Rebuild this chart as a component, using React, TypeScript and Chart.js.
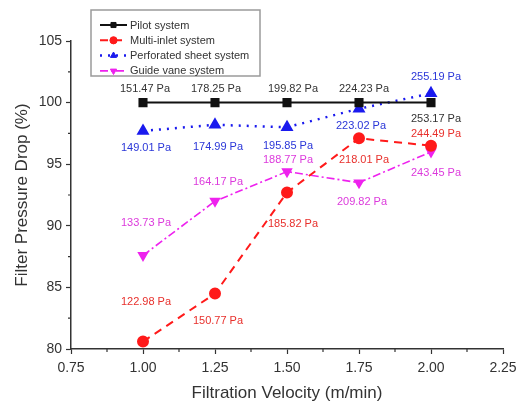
import React, { useEffect, useRef } from "react";
import { Chart, registerables } from "chart.js";
import { drawPoint } from "chart.js/helpers";

Chart.register(...registerables);

const velocities = [1.0, 1.25, 1.5, 1.75, 2.0];
const seriesNames = ["Pilot system", "Multi-inlet system", "Perforated sheet system", "Guide vane system"];
const pilotDrop = [100, 100, 100, 100, 100];
const multiInletDrop = [80.6, 84.5, 92.7, 97.1, 96.5];
const perforatedDrop = [97.7, 98.2, 98.0, 99.5, 100.75];
const guideVaneDrop = [87.6, 92.0, 94.4, 93.5, 96.0];
const pilotPa = ["151.47 Pa", "178.25 Pa", "199.82 Pa", "224.23 Pa", "253.17 Pa"];
const multiInletPa = ["122.98 Pa", "150.77 Pa", "185.82 Pa", "218.01 Pa", "244.49 Pa"];
const perforatedPa = ["149.01 Pa", "174.99 Pa", "195.85 Pa", "223.02 Pa", "255.19 Pa"];
const guideVanePa = ["133.73 Pa", "164.17 Pa", "188.77 Pa", "209.82 Pa", "243.45 Pa"];
const yTicksMajor = [80, 85, 90, 95, 100, 105];
const xTickStep = 0.25;

// label placement offsets (layout only, px relative to point)
const labelOffsets = [
  [[2, -14], [1, -14], [6, -14], [5, -14], [5, 16]],
  [[3, -40], [3, 27], [6, 31], [5, 22], [5, -12]],
  [[3, 17], [3, 22], [1, 19], [2, 17], [5, -16]],
  [[3, -32], [3, -19], [1, -12], [3, 19], [5, 21]],
];
const labelColors = ["#333333", "#e8302c", "#2a36d8", "#dc3adc"];
const paLabels = [pilotPa, multiInletPa, perforatedPa, guideVanePa];

const FONT = "'Liberation Sans', Arial, sans-serif";

const annotationPlugin = {
  id: "paLabels",
  afterDatasetsDraw(chart: any) {
    const ctx = chart.ctx;
    ctx.save();
    ctx.font = `11px ${FONT}`;
    ctx.textAlign = "center";
    ctx.textBaseline = "middle";
    chart.data.datasets.forEach((ds: any, di: number) => {
      const meta = chart.getDatasetMeta(di);
      ctx.fillStyle = labelColors[di];
      meta.data.forEach((pt: any, i: number) => {
        const [dx, dy] = labelOffsets[di][i];
        ctx.fillText(paLabels[di][i], pt.x + dx, pt.y + dy);
      });
    });
    ctx.restore();
  },
};

const minorTickPlugin = {
  id: "minorTicks",
  afterDraw(chart: any) {
    const ctx = chart.ctx;
    const xs = chart.scales.x;
    const ys = chart.scales.y;
    ctx.save();
    ctx.strokeStyle = "#333";
    ctx.lineWidth = 1.2;
    ctx.beginPath();
    for (let i = 0; i < yTicksMajor.length - 1; i++) {
      const v = (yTicksMajor[i] + yTicksMajor[i + 1]) / 2;
      const py = ys.getPixelForValue(v);
      ctx.moveTo(ys.right, py);
      ctx.lineTo(ys.right - 3, py);
    }
    for (let v = xs.min + xTickStep / 2; v < xs.max; v += xTickStep) {
      const px = xs.getPixelForValue(v);
      ctx.moveTo(px, xs.top);
      ctx.lineTo(px, xs.top + 3);
    }
    ctx.stroke();
    ctx.restore();
  },
};

const legendPlugin = {
  id: "insetLegend",
  afterDraw(chart: any) {
    const ctx = chart.ctx;
    const left = 91, top = 10, w = 169, h = 66;
    ctx.save();
    ctx.fillStyle = "#ffffff";
    ctx.fillRect(left, top, w, h);
    ctx.strokeStyle = "#9a9a9a";
    ctx.lineWidth = 1.5;
    ctx.strokeRect(left, top, w, h);
    ctx.font = `11px ${FONT}`;
    ctx.textBaseline = "middle";
    ctx.textAlign = "left";
    chart.data.datasets.forEach((ds: any, i: number) => {
      const y = 25 + i * 15.3;
      ctx.save();
      ctx.strokeStyle = ds.borderColor;
      ctx.lineWidth = ds.borderWidth;
      ctx.setLineDash(ds.borderDash || []);
      ctx.beginPath();
      ctx.moveTo(100, y);
      ctx.lineTo(127, y);
      ctx.stroke();
      ctx.restore();
      ctx.save();
      ctx.fillStyle = ds.pointBackgroundColor;
      ctx.strokeStyle = ds.pointBackgroundColor;
      ctx.lineWidth = 1;
      drawPoint(ctx, {
        pointStyle: ds.pointStyle,
        rotation: ds.pointRotation || 0,
        radius: 3.6,
        borderWidth: 1,
      } as any, 113.5, y);
      ctx.restore();
      ctx.fillStyle = "#333";
      ctx.fillText(ds.label, 130, y + 0.5);
    });
    ctx.restore();
  },
};

export default function App() {
  const ref = useRef<HTMLCanvasElement | null>(null);
  useEffect(() => {
    document.body.style.margin = "0";
    const mk = (ys: number[]) => velocities.map((x, i) => ({ x, y: ys[i] }));
    const chart = new Chart(ref.current as HTMLCanvasElement, {
      type: "line",
      data: {
        datasets: [
          {
            label: seriesNames[0],
            data: mk(pilotDrop),
            borderColor: "#111111",
            backgroundColor: "#111111",
            pointBackgroundColor: "#111111",
            pointBorderColor: "#111111",
            borderWidth: 2,
            pointStyle: "rect",
            pointRadius: 5,
          } as any,
          {
            label: seriesNames[1],
            data: mk(multiInletDrop),
            borderColor: "#ff1a1a",
            backgroundColor: "#ff1a1a",
            pointBackgroundColor: "#ff1a1a",
            pointBorderColor: "#ff1a1a",
            borderWidth: 2,
            borderDash: [8, 6],
            pointStyle: "circle",
            pointRadius: 5,
          },
          {
            label: seriesNames[2],
            data: mk(perforatedDrop),
            borderColor: "#1a1aee",
            backgroundColor: "#1a1aee",
            pointBackgroundColor: "#1a1aee",
            pointBorderColor: "#1a1aee",
            borderWidth: 2.5,
            borderDash: [2, 6],
            pointStyle: "triangle",
            pointRadius: 5,
          },
          {
            label: seriesNames[3],
            data: mk(guideVaneDrop),
            borderColor: "#ee22ee",
            backgroundColor: "#ee22ee",
            pointBackgroundColor: "#ee22ee",
            pointBorderColor: "#ee22ee",
            borderWidth: 1.6,
            borderDash: [8, 3, 2, 3],
            pointStyle: "triangle",
            pointRotation: 180,
            pointRadius: 5,
          },
        ],
      },
      options: {
        animation: false,
        responsive: false,
        layout: { padding: { left: 0, top: 41, right: 13, bottom: 0 } },
        plugins: { legend: { display: false }, tooltip: { enabled: false } },
        scales: {
          x: {
            type: "linear",
            min: 0.75,
            max: 2.25,
            afterFit: (s: any) => { s.height = 59; s.paddingLeft = 0; s.paddingRight = 0; },
            ticks: {
              stepSize: xTickStep,
              padding: 6,
              color: "#333",
              font: { family: FONT, size: 14 },
              callback: (v: any) => Number(v).toFixed(2),
            },
            grid: { drawOnChartArea: false, drawTicks: true, tickLength: 5, color: "#333", tickWidth: 1.2 },
            border: { color: "#333", width: 1.5 },
            title: {
              display: true,
              text: "Filtration Velocity (m/min)",
              color: "#333",
              font: { family: FONT, size: 17 },
              padding: { top: 0, bottom: 4 },
            },
          },
          y: {
            min: 80,
            max: 105,
            afterFit: (s: any) => { s.width = 71; s.paddingTop = 0; s.paddingBottom = 0; },
            ticks: {
              stepSize: 5,
              padding: 4,
              color: "#333",
              font: { family: FONT, size: 14 },
            },
            grid: { drawOnChartArea: false, drawTicks: true, tickLength: 5, color: "#333", tickWidth: 1.2 },
            border: { color: "#333", width: 1.5 },
            title: {
              display: true,
              text: "Filter Pressure Drop (%)",
              color: "#333",
              font: { family: FONT, size: 17 },
              padding: { top: 12, bottom: 0 },
            },
          },
        },
      },
      plugins: [minorTickPlugin, annotationPlugin, legendPlugin],
    });
    return () => chart.destroy();
  }, []);
  return (
    <div style={{ position: "absolute", left: 0, top: 0, width: 516, height: 408, background: "#fff" }}>
      <canvas ref={ref} width={516} height={408} style={{ display: "block" }} />
    </div>
  );
}
